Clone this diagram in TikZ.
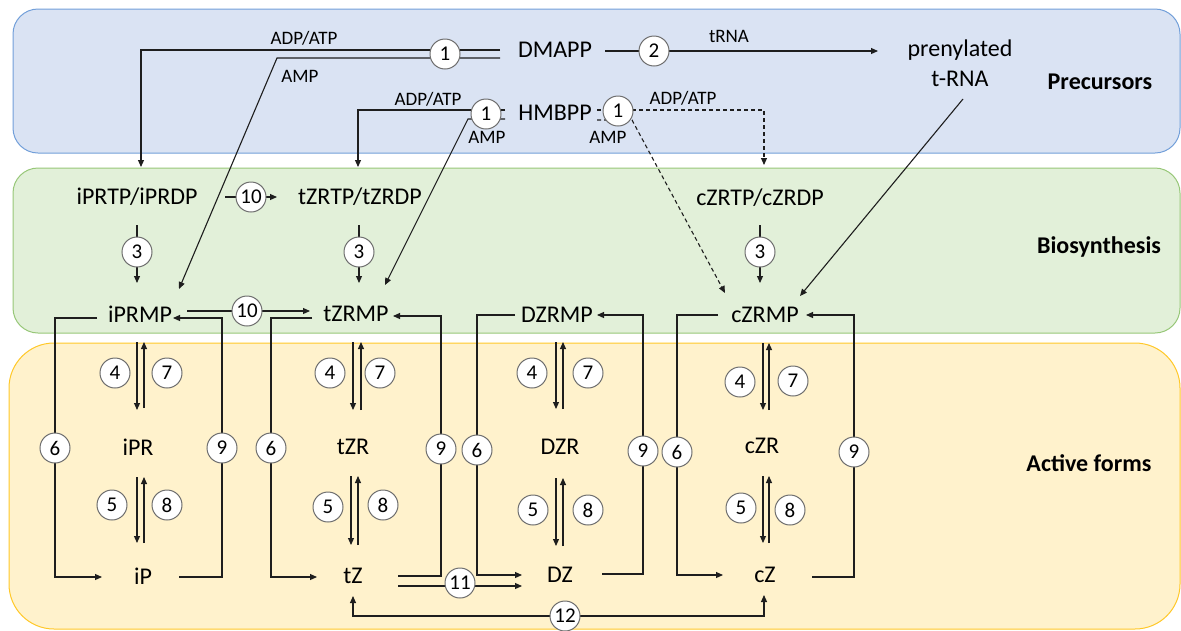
\documentclass[tikz,border=0pt]{standalone}
\usepackage{fontspec}
\setmainfont{Carlito}
\usetikzlibrary{arrows.meta,calc}
\pgfdeclarelayer{bg}
\pgfdeclarelayer{mid}
\pgfsetlayers{bg,mid,main}
\definecolor{bluefill}{RGB}{218,227,243}
\definecolor{bluedraw}{RGB}{114,159,217}
\definecolor{greenfill}{RGB}{226,240,217}
\definecolor{greendraw}{RGB}{151,199,120}
\definecolor{yellowfill}{RGB}{255,242,204}
\definecolor{yellowdraw}{RGB}{255,200,40}
\definecolor{linec}{RGB}{30,30,30}
\definecolor{numgray}{RGB}{110,110,110}
\begin{document}
\begin{tikzpicture}[x=1pt,y=-1pt,
  txt/.style={font=\fontsize{24}{30}\selectfont, inner sep=0pt},
  lbl/.style={font=\fontsize{19}{23}\selectfont, inner sep=0pt},
  ttl/.style={font=\bfseries\fontsize{24}{29}\selectfont, inner sep=0pt},
  num/.style={circle, draw=numgray, fill=white, line width=1pt, minimum size=30pt, inner sep=0pt, font=\fontsize{21}{24}\selectfont},
  ln/.style={line width=1.1pt, draw=linec},
  arr/.style={ln, -{Triangle[length=7pt,width=6pt]}},
  dsh/.style={dash pattern=on 4pt off 3pt},
  tip2/.style={ln, {Triangle[length=7pt,width=6pt]}-{Triangle[length=7pt,width=6pt]}}
]
\useasboundingbox (0,0) rectangle (1181,630);
\begin{pgfonlayer}{bg}
\filldraw[fill=bluefill, draw=bluedraw, line width=1pt, rounded corners=25pt] (13,9) rectangle (1180,153);
\filldraw[fill=greenfill, draw=greendraw, line width=1pt, rounded corners=25pt] (13,168) rectangle (1180,333);
\filldraw[fill=yellowfill, draw=yellowdraw, line width=1pt, rounded corners=45pt] (9,343) rectangle (1180,629);
\end{pgfonlayer}

% text nodes
\node[txt] (DMAPP) at (555,50) {DMAPP};
\node[txt] (HMBPP) at (555,113) {HMBPP};
\node[txt, align=center] (prenyl) at (960,63) {prenylated\\t-RNA};
\node[ttl] (precursors) at (1100,82) {Precursors};
\node[ttl] (biosyn) at (1099,247) {Biosynthesis};
\node[ttl] (active) at (1089,463) {Active forms};
\node[txt] (iPRTPDP) at (137,197) {iPRTP/iPRDP};
\node[txt] (tZRTPDP) at (360,197) {tZRTP/tZRDP};
\node[txt] (cZRTPDP) at (760,198) {cZRTP/cZRDP};
\node[txt] (iPRMP) at (140,314) {iPRMP};
\node[txt] (tZRMP) at (356,314) {tZRMP};
\node[txt] (DZRMP) at (557,315) {DZRMP};
\node[txt] (cZRMP) at (765,315) {cZRMP};
\node[txt] (iPR) at (138,447) {iPR};
\node[txt] (tZR) at (353,447) {tZR};
\node[txt] (DZR) at (560,447) {DZR};
\node[txt] (cZR) at (762,446) {cZR};
\node[txt] (iP) at (143,576) {iP};
\node[txt] (tZ) at (353,576) {tZ};
\node[txt] (DZ) at (560,575) {DZ};
\node[txt] (cZ) at (765,575) {cZ};

% small labels
\node[lbl] (l1) at (304,38) {ADP/ATP};
\node[lbl] (l2) at (300,76) {AMP};
\node[lbl] (l3) at (428,99) {ADP/ATP};
\node[lbl] (l4) at (487,137) {AMP};
\node[lbl] (l5) at (683,98) {ADP/ATP};
\node[lbl] (l6) at (608,137) {AMP};
\node[lbl] (l7) at (729,36) {tRNA};

% numbered circles
\node[num] (c1a) at (445,54) {1};
\node[num] (c2) at (654,51) {2};
\node[num] (c1b) at (486,114) {1};
\node[num] (c1c) at (618,111) {1};
\node[num] (c10a) at (251,197) {10};
\node[num] (c3a) at (137,252) {3};
\node[num] (c3b) at (359,252) {3};
\node[num] (c3c) at (760,252) {3};
\node[num] (c10b) at (247,311) {10};
\node[num] (c4a) at (115,373) {4};
\node[num] (c7a) at (167,373) {7};
\node[num] (c6a) at (55,448) {6};
\node[num] (c9a) at (222,448) {9};
\node[num] (c5a) at (112,505) {5};
\node[num] (c8a) at (167,505) {8};
\node[num] (c4b) at (330,373) {4};
\node[num] (c7b) at (380,373) {7};
\node[num] (c6b) at (271,448) {6};
\node[num] (c9b) at (441,449) {9};
\node[num] (c5b) at (328,507) {5};
\node[num] (c8b) at (383,505) {8};
\node[num] (c4c) at (532,373) {4};
\node[num] (c7c) at (588,373) {7};
\node[num] (c6c) at (477,450) {6};
\node[num] (c9c) at (643,451) {9};
\node[num] (c5c) at (533,510) {5};
\node[num] (c8c) at (588,510) {8};
\node[num] (c4d) at (740,382) {4};
\node[num] (c7d) at (793,381) {7};
\node[num] (c6d) at (677,452) {6};
\node[num] (c9d) at (854,452) {9};
\node[num] (c5d) at (741,508) {5};
\node[num] (c8d) at (790,510) {8};
\node[num] (c11) at (460,583) {11};
\node[num] (c12) at (565,616) {12};

\begin{pgfonlayer}{mid}
% precursors
\draw[arr] ($(DMAPP)+(-55,0)$) -| ($(iPRTPDP)+(4,-30)$);
\draw[arr] ($(DMAPP)+(-55,8)$) -- (277,58) -- ($(iPRMP)+(39,-25)$);
\draw[arr] ($(HMBPP)+(-50,-3)$) -| ($(tZRTPDP)+(-2,-30)$);
\draw[arr] ($(HMBPP)+(-50,6)$) -- (468,119) -- ($(tZRMP)+(29,-29)$);
\draw[arr,dsh] ($(HMBPP)+(42,-3)$) -| ($(cZRTPDP)+(4,-33)$);
\draw[arr,dsh] ($(HMBPP)+(42,7)$) -- (632,120) -- ($(cZRMP)+(-40,-22)$);
\draw[arr] ($(DMAPP)+(50,1)$) -- ($(prenyl)+(-82,-12)$);
\draw[arr] ($(prenyl)+(3,36)$) -- ($(cZRMP)+(35,-19)$);
% biosynthesis
\draw[arr] ($(iPRTPDP)+(88,0)$) -- ($(tZRTPDP)+(-83,0)$);
\draw[arr] ($(iPRTPDP)+(0,28)$) -- ($(iPRMP)+(-3,-31)$);
\draw[arr] ($(tZRTPDP)+(-1,28)$) -- ($(tZRMP)+(3,-31)$);
\draw[arr] ($(cZRTPDP)+(0,27)$) -- ($(cZRMP)+(-5,-32)$);
\draw[arr] ($(iPRMP)+(47,-3)$) -- ($(tZRMP)+(-46,-3)$);
% loops 6 and 9
\draw[arr] ($(iPRMP)+(-43,4)$) -| (c6a.center) |- ($(iP)+(-41,1)$);
\draw[arr] ($(iP)+(36,1)$) -| (c9a.center) |- ($(iPRMP)+(33,4)$);
\draw[arr] ($(tZRMP)+(-44,4)$) -| (c6b.center) |- ($(tZ)+(-36,1)$);
\draw[arr] ($(tZ)+(45,0)$) -| (c9b.center) |- ($(tZRMP)+(37,2)$);
\draw[arr] ($(DZRMP)+(-42,0)$) -| (c6c.center) |- ($(DZ)+(-38,0)$);
\draw[arr] ($(DZ)+(42,-1)$) -| (c9c.center) |- ($(DZRMP)+(40,0)$);
\draw[arr] ($(cZRMP)+(-47,0)$) -| (c6d.center) |- ($(cZ)+(-42,0)$);
\draw[arr] ($(cZ)+(47,2)$) -| (c9d.center) |- ($(cZRMP)+(41,0)$);
% 11 and 12
\draw[arr] ($(tZ)+(45,10)$) -- ($(DZ)+(-38,11)$);
\draw[tip2] ($(tZ)+(0,20)$) |- (c12.center) -| ($(cZ)+(-1,20)$);
% vertical pairs: iP column
\draw[arr] ($(iPRMP)+(-3,28)$) -- ($(iPR)+(-1,-37)$);
\draw[arr] ($(iPR)+(6,-39)$) -- ($(iPRMP)+(4,28)$);
\draw[arr] ($(iPR)+(-1,30)$) -- ($(iP)+(-6,-33)$);
\draw[arr] ($(iP)+(1,-33)$) -- ($(iPR)+(6,30)$);
% tZ column
\draw[arr] ($(tZRMP)+(-3,28)$) -- ($(tZR)+(0,-37)$);
\draw[arr] ($(tZR)+(8,-37)$) -- ($(tZRMP)+(5,28)$);
\draw[arr] ($(tZR)+(-2,29)$) -- ($(tZ)+(-2,-31)$);
\draw[arr] ($(tZ)+(5,-31)$) -- ($(tZR)+(5,29)$);
% DZ column
\draw[arr] ($(DZRMP)+(-1,27)$) -- ($(DZR)+(-4,-38)$);
\draw[arr] ($(DZR)+(3,-38)$) -- ($(DZRMP)+(6,27)$);
\draw[arr] ($(DZR)+(-4,31)$) -- ($(DZ)+(-4,-29)$);
\draw[arr] ($(DZ)+(3,-29)$) -- ($(DZR)+(3,31)$);
% cZ column
\draw[arr] ($(cZRMP)+(-2,28)$) -- ($(cZR)+(1,-36)$);
\draw[arr] ($(cZR)+(7,-36)$) -- ($(cZRMP)+(4,28)$);
\draw[arr] ($(cZR)+(1,30)$) -- ($(cZ)+(-2,-32)$);
\draw[arr] ($(cZ)+(4,-32)$) -- ($(cZR)+(7,30)$);
\end{pgfonlayer}
\end{tikzpicture}
\end{document}
